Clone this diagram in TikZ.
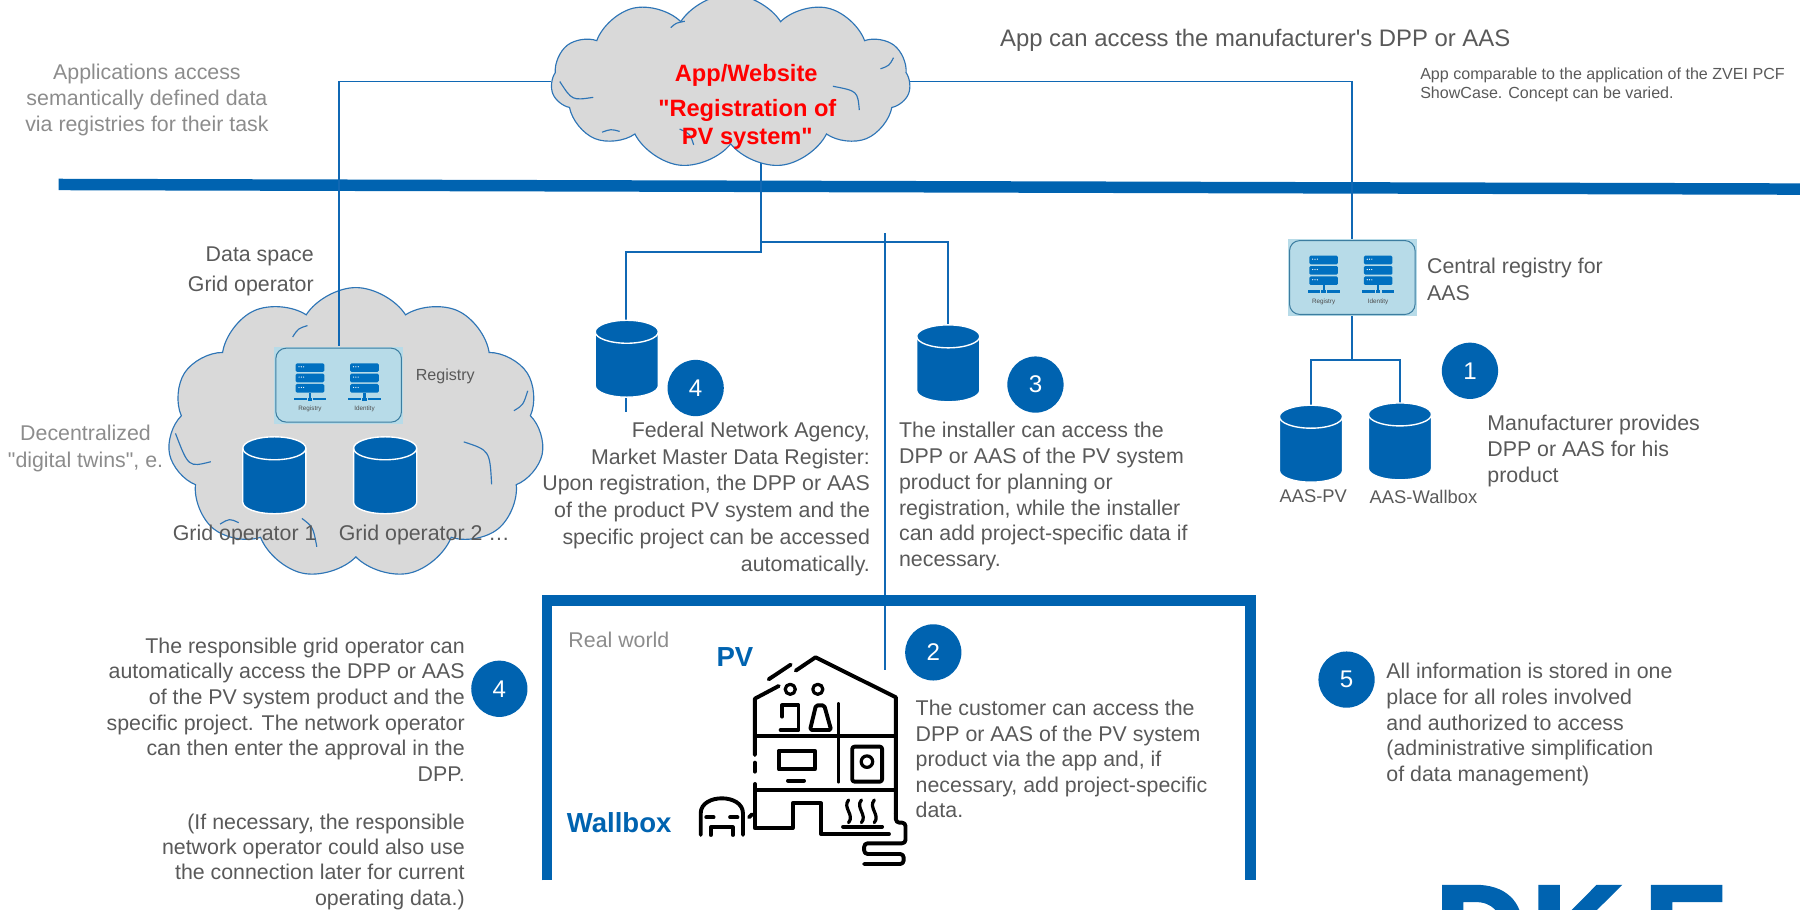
\documentclass[tikz,border=0pt]{standalone}
\usepackage{fontspec}
\defaultfontfeatures[\rmfamily,\sffamily]{}
\setmainfont{Liberation Sans}
\newfontfamily\logofont{Liberation Sans}[BoldFeatures={FakeBold=2.5}]
\usetikzlibrary{shapes.symbols,calc}
\pgfdeclarelayer{back}
\pgfdeclarelayer{links}
\pgfsetlayers{back,links,main}

\definecolor{bandblue}{RGB}{0,99,176}
\definecolor{linkblue}{RGB}{16,104,180}
\definecolor{cloudgray}{RGB}{217,217,217}
\definecolor{cloudline}{RGB}{46,117,182}
\definecolor{txtdark}{RGB}{89,89,89}
\definecolor{txtlight}{RGB}{140,140,140}
\definecolor{regfill}{RGB}{183,219,232}
\definecolor{regline}{RGB}{60,125,160}
\definecolor{iconblue}{RGB}{0,112,192}
\definecolor{appred}{RGB}{255,0,0}

\tikzset{
  txt/.style={inner sep=0pt, text=txtdark, font=\fontsize{18.6}{#1}\selectfont},
  txt/.default=22.4,
  ltxt/.style={inner sep=0pt, text=txtlight, font=\fontsize{18.6}{#1}\selectfont},
  ltxt/.default=22.5,
  link/.style={draw=linkblue, line width=1.7pt},
  numdot/.style={circle, fill=bandblue, minimum size=49pt, inner sep=0pt, text=white, font=\fontsize{21}{21}\selectfont},
  cloudshape/.style={cloud, cloud puffs=11, cloud puff arc=115, cloud ignores aspect, fill=cloudgray, draw=cloudline, line width=1pt, inner sep=0pt},
  cloudfold/.style={draw=cloudline, line width=1pt},
  regbg/.style={rectangle, fill=regfill, inner sep=0pt},
  bluehead/.style={inner sep=0pt, text=bandblue, font=\bfseries\fontsize{24}{24}\selectfont},
  iconlabel/.style={inner sep=0pt, text=black!70, font=\fontsize{5.5}{6}\selectfont},
  apptext/.style={inner sep=0pt, text=appred, align=center, font=\bfseries\fontsize{20.6}{#1}\selectfont},
  apptext/.default=24.6,
  house/.style={draw=black, line width=3.4pt, line cap=round, line join=round},
}

% inner folds of a cloud: #1 left x, #2 top y (downwards), #3 width, #4 height
\newcommand\cloudfolds[4]{%
  \draw[cloudfold] (#1+0.015*#3,-#2-0.50*#4) .. controls (#1+0.05*#3,-#2-0.62*#4) .. (#1+0.11*#3,-#2-0.60*#4);
  \draw[cloudfold] (#1+0.135*#3,-#2-0.82*#4) .. controls (#1+0.16*#3,-#2-0.80*#4) .. (#1+0.185*#3,-#2-0.815*#4);
  \draw[cloudfold] (#1+0.355*#3,-#2-0.80*#4) .. controls (#1+0.385*#3,-#2-0.83*#4) .. (#1+0.395*#3,-#2-0.90*#4);
  \draw[cloudfold] (#1+0.79*#3,-#2-0.53*#4) .. controls (#1+0.86*#3,-#2-0.56*#4) .. (#1+0.865*#3,-#2-0.68*#4);
  \draw[cloudfold] (#1+0.925*#3,-#2-0.42*#4) .. controls (#1+0.95*#3,-#2-0.40*#4) .. (#1+0.962*#3,-#2-0.35*#4);
  \draw[cloudfold] (#1+0.33*#3,-#2-0.16*#4) .. controls (#1+0.345*#3,-#2-0.13*#4) .. (#1+0.37*#3,-#2-0.12*#4);
}

% server icon: #1 centre x, #2 top y, #3 caption, #4 caption node name
\newcommand\srvicon[4]{%
  \foreach \k in {0,1,2}{%
    \fill[iconblue, rounded corners=1.2pt] (#1-12.5,#2-9*\k) rectangle (#1+12.5,#2-9*\k-7.5);
    \foreach \j in {0,1,2} \fill[white] (#1-9.5+2*\j,#2-9*\k-3) circle[radius=0.55pt];
  }
  \fill[iconblue] (#1-0.9,#2-25.5) rectangle (#1+0.9,#2-30);
  \fill[iconblue] (#1-14,#2-30.3) rectangle (#1-3,#2-32.3);
  \fill[iconblue] (#1+3,#2-30.3) rectangle (#1+14,#2-32.3);
  \fill[iconblue] (#1-2,#2-29.8) rectangle (#1+2,#2-32.8);
  \node[iconlabel] (#4) at (#1,#2-40) {#3};
}

% registry/identity box: #1 name, #2 centre x, #3 centre y (downwards)
\newcommand\regbox[3]{%
  \node[regbg, minimum width=112pt, minimum height=67pt] (#1) at (#2,-#3) {};
  \draw[regline, line width=0.9pt, rounded corners=9pt]
    ($(#1.south west)+(1.5,1.5)$) rectangle ($(#1.north east)+(-1.5,-1.5)$);
  \srvicon{#2-25}{-#3+19}{Registry}{#1reg}
  \srvicon{#2+22.5}{-#3+19}{Identity}{#1id}
}

% database cylinder: #1 name, #2 centre x, #3 top y (downwards)
\newcommand\dbcyl[3]{%
  \node[inner sep=0pt, minimum width=55pt, minimum height=67pt] (#1) at (#2,-#3-33.5) {};
  \path[fill=bandblue, draw=white, line width=1.2pt]
    (#2-27.5,-#3-10) -- (#2-27.5,-#3-57)
    arc[start angle=180, end angle=360, x radius=27.5pt, y radius=10pt]
    -- (#2+27.5,-#3-10)
    arc[start angle=0, end angle=180, x radius=27.5pt, y radius=10pt] -- cycle;
  \draw[white, line width=1.2pt] (#2-27.5,-#3-10)
    arc[start angle=180, end angle=360, x radius=27.5pt, y radius=10pt];
}

\begin{document}
\begin{tikzpicture}[x=1pt,y=1pt]
\useasboundingbox (0,0) rectangle (1568,-792);
\clip (0,0) rectangle (1568,-792);

\begin{pgfonlayer}{back}
  \node[cloudshape, minimum width=328pt, minimum height=254pt] (dscloud) at (310,-377.5) {};
  \cloudfolds{148}{254}{324}{247}
  \draw[bandblue, line width=10pt] (51,-160.7) -- (1568,-164.7);
\end{pgfonlayer}

% application cloud
\node[cloudshape, minimum width=313pt, minimum height=152pt] (app) at (636.5,-71) {};
\cloudfolds{483}{2}{307}{138}
\node[apptext=20.6, anchor=north] (apptitle) at (650,-56) {App/Website};
\node[apptext, anchor=north] (appsub) at (651,-86.4) {"Registration of\\PV system"};

% registries
\regbox{lreg}{295}{335.5}
\regbox{creg}{1178}{241.75}

% databases
\dbcyl{go1}{239}{380.5}
\dbcyl{go2}{335.5}{380.5}
\dbcyl{fna}{546}{279}
\dbcyl{inst}{826}{283}
\dbcyl{aaspv}{1142}{353}
\dbcyl{aaswb}{1219.5}{351}

% branch points
\coordinate (appdrop) at (663,-125);
\coordinate (brR) at (663,-210.5);
\coordinate (brL) at (663,-219.6);
\coordinate (fnaEnd) at (545,-359);
\coordinate (rwTop) at (771,-203);
\coordinate (rwEnd) at (771,-584);
\coordinate (cbr) at (1178,-313.6);

\begin{pgfonlayer}{links}
  \draw[link] (app.west) -| (lreg.north);
  \draw[link] (app.east) -| (creg.north);
  \draw[link] (appdrop) -- (brL) -| (fnaEnd);
  \draw[link] (brR) -| (inst.north);
  \draw[link] (rwTop) -- (rwEnd);
  \draw[link] (creg.south) -- (cbr) -| (aaspv.north);
  \draw[link] (cbr) -| (aaswb.north);
\end{pgfonlayer}

% real world frame
\draw[bandblue, line width=9.5pt] (476.5,-767) -- (476.5,-523.4) -- (1089,-523.4) -- (1089,-767);

% texts
\node[ltxt, anchor=north, align=center] (apps) at (128,-55.75)
  {Applications access\\semantically defined data\\via registries for their task};
\node[inner sep=0pt, text=txtdark, anchor=north west, font=\fontsize{20.8}{24}\selectfont] (appacc) at (871,-24.9)
  {App can access the manufacturer's DPP or AAS};
\node[inner sep=0pt, text=txtdark, anchor=north west, align=left, font=\fontsize{14}{17}\selectfont] (zvei) at (1237,-58.5)
  {App comparable to the application of the ZVEI PCF\\ShowCase. Concept can be varied.};
\node[txt=26, anchor=north east, align=right] (dspace) at (273.5,-214.75) {Data space\\Grid operator};
\node[inner sep=0pt, text=txtdark, anchor=west, font=\fontsize{14}{17}\selectfont] (lreglabel) at (362,-328) {Registry};
\node[txt, anchor=west] (go1label) at (150.4,-466) {Grid operator 1};
\node[txt, anchor=west] (go2label) at (295,-466) {Grid operator 2 …};
\node[ltxt=23.2, anchor=north, align=center] (decent) at (74.5,-370.25) {Decentralized\\"digital twins", e.};
\node[txt=23.3, anchor=north east, align=right] (fnatext) at (758,-367.35)
  {Federal Network Agency,\\Market Master Data Register:\\Upon registration, the DPP or AAS\\of the product PV system and the\\specific project can be accessed\\automatically.};
\node[txt=22.4, anchor=north west, align=left] (insttext) at (783,-367.75)
  {The installer can access the\\DPP or AAS of the PV system\\product for planning or\\registration, while the installer\\can add project-specific data if\\necessary.};
\node[txt=23, anchor=north west, align=left] (cregtext) at (1243,-224.75) {Central registry for\\AAS};
\node[txt=22.5, anchor=north west, align=left] (mantext) at (1295.5,-361.55)
  {Manufacturer provides\\DPP or AAS for his\\product};
\node[inner sep=0pt, text=txtdark, font=\fontsize{16}{18}\selectfont] (pvlabel) at (1144,-432.6) {AAS-PV};
\node[inner sep=0pt, text=txtdark, font=\fontsize{16}{18}\selectfont] (wblabel) at (1240,-432.6) {AAS-Wallbox};
\node[txt=22.4, anchor=north east, align=right] (gridtext) at (405,-555.15)
  {The responsible grid operator can\\automatically access the DPP or AAS\\of the PV system product and the\\specific project. The network operator\\can then enter the approval in the\\DPP.};
\node[txt=22, anchor=north east, align=right] (gridnote) at (405,-708.75)
  {(If necessary, the responsible\\network operator could also use\\the connection later for current\\operating data.)};
\node[ltxt, anchor=west] (realworld) at (495,-557.5) {Real world};
\node[bluehead, anchor=west] (pvhead) at (624,-572) {PV};
\node[bluehead, anchor=west] (wbhead) at (493.6,-717) {Wallbox};
\node[txt=22.2, anchor=north west, align=left] (custtext) at (797.5,-609.75)
  {The customer can access the\\DPP or AAS of the PV system\\product via the app and, if\\necessary, add project-specific\\data.};
\node[txt=22.3, anchor=north west, align=left] (alltext) at (1207.5,-577.75)
  {All information is stored in one\\place for all roles involved\\and authorized to access\\(administrative simplification\\of data management)};

% numbered markers
\node[numdot] (n1) at (1280.5,-323) {1};
\node[numdot] (n2) at (813,-568.3) {2};
\node[numdot] (n3) at (902,-335) {3};
\node[numdot] (n4a) at (606,-338) {4};
\node[numdot] (n4b) at (435,-600) {4};
\node[numdot] (n5) at (1173,-592) {5};

% house with PV and wallbox (line icon)
\begin{scope}[shift={(470.4,-505.2)}, x=0.4pt, y=-0.2904pt]
  % roof and walls
  \draw[house] (557,272) -- (600,232) -- (775,352) -- (775,700);
  \draw[house] (498,298) -- (546,254);
  \draw[house] (520,318) -- (468,356) -- (468,525);
  \draw[house] (468,548) -- (468,575);
  % floors and partition
  \draw[house] (470,468) -- (772,468);
  \draw[house] (470,630) -- (772,630);
  \draw[house] (650,372) -- (650,605);
  % residents
  \draw[house, line width=2.8pt] (545,328) circle[radius=4.4pt];
  \draw[house, line width=2.8pt] (605,328) circle[radius=4.4pt];
  \draw[house] (527,410) -- (527,376) -- (563,376) -- (563,450) -- (524,450);
  \draw[house, rounded corners=1.5pt] (588,450) -- (601,376) -- (619,376) -- (634,450) -- cycle;
  % screen
  \draw[house] (520,512) rectangle (598,568);
  \draw[house] (540,602) -- (575,602);
  % washing machine
  \draw[house, rounded corners=2pt] (680,500) rectangle (745,605);
  \draw[house, line width=2.8pt] (712,545) circle[radius=5pt];
  % ground floor with door
  \draw[house] (468,612) -- (468,745) -- (550,745) -- (550,670) -- (612,670) -- (612,762) -- (760,762);
  % heater
  \foreach \hx in {672,700,728}
    \draw[house, line width=2.8pt] (\hx,660) .. controls (\hx-14,683) and (\hx+14,705) .. (\hx,728);
  \draw[house] (660,740) -- (745,740);
  % cable to the wallbox
  \draw[house, rounded corners=3pt] (775,700) -- (775,728) -- (796,728) -- (796,790) -- (706,790) -- (706,822) -- (792,822) -- (792,852) -- (706,852);
  % car at the wallbox
  \draw[house] (350,765) -- (350,700) .. controls (350,640) and (442,640) .. (442,700) -- (442,765);
  \draw[house] (372,765) -- (372,742) -- (420,742) -- (420,765);
  \draw[house] (362,712) -- (378,712);
  \draw[house] (414,712) -- (430,712);
  \draw[house] (455,712) -- (462,703);
\end{scope}

% logo, cut by the lower edge
\node[anchor=base west, inner sep=0pt, text=bandblue, font=\logofont\bfseries\fontsize{110}{110}\selectfont] (dke) at (1250,-847.8) {D\kern4.6pt K\kern18.6pt E};
\end{tikzpicture}
\end{document}
